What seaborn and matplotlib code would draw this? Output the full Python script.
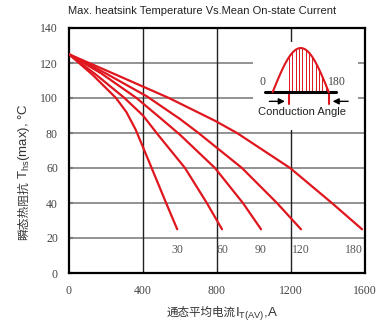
import numpy as np
import pandas as pd
import matplotlib
matplotlib.use("Agg")
import matplotlib.pyplot as plt
import seaborn as sns

# ---- data ----
angles = [30, 60, 90, 120, 180]
x_30 = [0, 130, 254, 310, 360, 435, 525, 585]
y_30 = [125, 113, 100, 92, 82, 63, 40, 25]
x_60 = [0, 150, 300, 400, 481, 627, 745, 827]
y_60 = [125, 113, 100, 90, 79, 60, 40, 25]
x_90 = [0, 175, 365, 500, 600, 789, 940, 1038]
y_90 = [125, 114, 100, 88, 79, 60, 40, 25]
x_120 = [0, 200, 420, 600, 700, 935, 1124, 1254]
y_120 = [125, 114, 101, 88, 80, 60, 40, 25]
x_180 = [0, 250, 540, 789, 908, 1195, 1421, 1584]
y_180 = [125, 113.5, 100, 87, 80, 60, 40, 25]
xticks = [0, 400, 800, 1200, 1600]
yticks = [0, 20, 40, 60, 80, 100, 120, 140]

xs = [x_30, x_60, x_90, x_120, x_180]
ys = [y_30, y_60, y_90, y_120, y_180]
rows = []
for a, xv, yv in zip(angles, xs, ys):
    for x, y in zip(xv, yv):
        rows.append({"angle": str(a), "I": x, "T": y})
df = pd.DataFrame(rows)

sns.set_theme(style="white")
plt.rcParams['font.family'] = ['Liberation Sans', 'Noto Sans CJK SC', 'DejaVu Sans']
plt.rcParams['mathtext.default'] = 'regular'

RED = "#e0161e"
W, H = 377, 329
fig = plt.figure(figsize=(W/100, H/100), dpi=100)
ax = fig.add_axes([69/W, 1-273/H, (365-69)/W, (273-28)/H])

sns.lineplot(data=df, x="I", y="T", hue="angle", palette=[RED]*5,
             estimator=None, sort=False, lw=1.6, legend=False, ax=ax, zorder=3)

ax.set_xlim(0, 1600)
ax.set_ylim(0, 140)
ax.set_xticks(xticks)
ax.set_yticks(yticks)
ax.set_xticklabels([str(t) for t in xticks], family='Liberation Serif', fontsize=8.5, color='#444444')
ax.set_yticklabels([str(t) for t in yticks], family='Liberation Serif', fontsize=8.5, color='#444444')
ax.tick_params(axis='x', length=0, pad=9)
ax.tick_params(axis='y', direction='in', length=3, width=1.5, color='black', pad=8, left=True)
ax.set_xlabel("")
ax.set_ylabel("")

for y in yticks[1:-1]:
    ax.axhline(y, color='#8a8a8a', lw=1.3, zorder=1)
for x in xticks[1:-1]:
    ax.axvline(x, color='#222222', lw=1.0, zorder=1)
for s in ax.spines.values():
    s.set_color('black')
    s.set_linewidth(1.6)
    s.set_visible(True)

for a, xv in zip(angles, xs):
    ax.text(min(xv[-1], 1540), 13, str(a), ha='center', va='center',
            family='Liberation Serif', fontsize=8.5, color='#555555', zorder=4)

fig.suptitle("Max. heatsink Temperature Vs.Mean On-state Current", x=0.535, y=0.982,
             fontsize=8, color='#222222')

renderer = fig.canvas.get_renderer()

# x label: Chinese part + Latin part, centred at x=222 px
ybase = 1 - 316/H
tx1 = fig.text(0, ybase, "通态平均电流", family='Noto Sans CJK SC', fontsize=8.3,
               color='#333333', ha='left', va='baseline')
tx2 = fig.text(0, ybase, "I$_{T(AV)}$,A", family='Liberation Sans', fontsize=9.5,
               color='#333333', ha='left', va='baseline')
w1 = tx1.get_window_extent(renderer).width
w2 = tx2.get_window_extent(renderer).width
x0 = 222 - (w1 + w2) / 2
tx1.set_x(x0 / W)
tx2.set_x((x0 + w1) / W)

# y label: rotated, Chinese at bottom
xb = 27 / W
ty1 = fig.text(xb, 1 - 240/H, "瞬态热阻抗", family='Noto Sans CJK SC', fontsize=8.5,
               color='#333333', rotation=90, rotation_mode='anchor', ha='left', va='baseline')
h1 = ty1.get_window_extent(renderer).height
ty2 = fig.text(xb, 1 - 240/H + (h1 + 2)/H, "T$_{hs}$(max), °C", family='Liberation Sans', fontsize=9.5,
               color='#333333', rotation=90, rotation_mode='anchor', ha='left', va='baseline')

# ---- inset schematic ----
axin = ax.inset_axes([992/1600, 82/140, 570/1600, 50/140])
axin.set_xlim(252, 357)
axin.set_ylim(129, 42)
axin.set_zorder(5)
axin.axis('off')
axin.add_patch(plt.Rectangle((252, 42), 105, 87, color='white', zorder=0))
axin.plot([264, 335], [92, 92], color='black', lw=2.2, zorder=3)
t = np.linspace(0, np.pi, 80)
axin.plot(272 + 56*t/np.pi, 92 - 44*np.sin(t), color=RED, lw=1.5, zorder=4)
for xv in np.arange(288.5, 328, 3.3):
    axin.plot([xv, xv], [92, 92 - 44*np.sin(np.pi*(xv-272)/56)], color=RED, lw=0.7, zorder=2)
axin.plot([288, 288], [93, 104], color=RED, lw=1.5)
axin.plot([328, 328], [93, 104], color=RED, lw=1.5)
axin.annotate("", xy=(287, 101), xytext=(266, 101),
              arrowprops=dict(arrowstyle='-|>', color='black', lw=1, mutation_scale=9))
axin.annotate("", xy=(329, 101), xytext=(350, 101),
              arrowprops=dict(arrowstyle='-|>', color='black', lw=1, mutation_scale=9))
axin.text(262, 82, "0", ha='center', va='center', family='Liberation Serif', fontsize=8.5, color='#444444')
axin.text(336, 82, "180", ha='center', va='center', family='Liberation Serif', fontsize=8.5, color='#444444')
axin.text(301, 112, "Conduction Angle", ha='center', va='center', fontsize=8, color='#222222')

fig.savefig("out.png", dpi=100)
